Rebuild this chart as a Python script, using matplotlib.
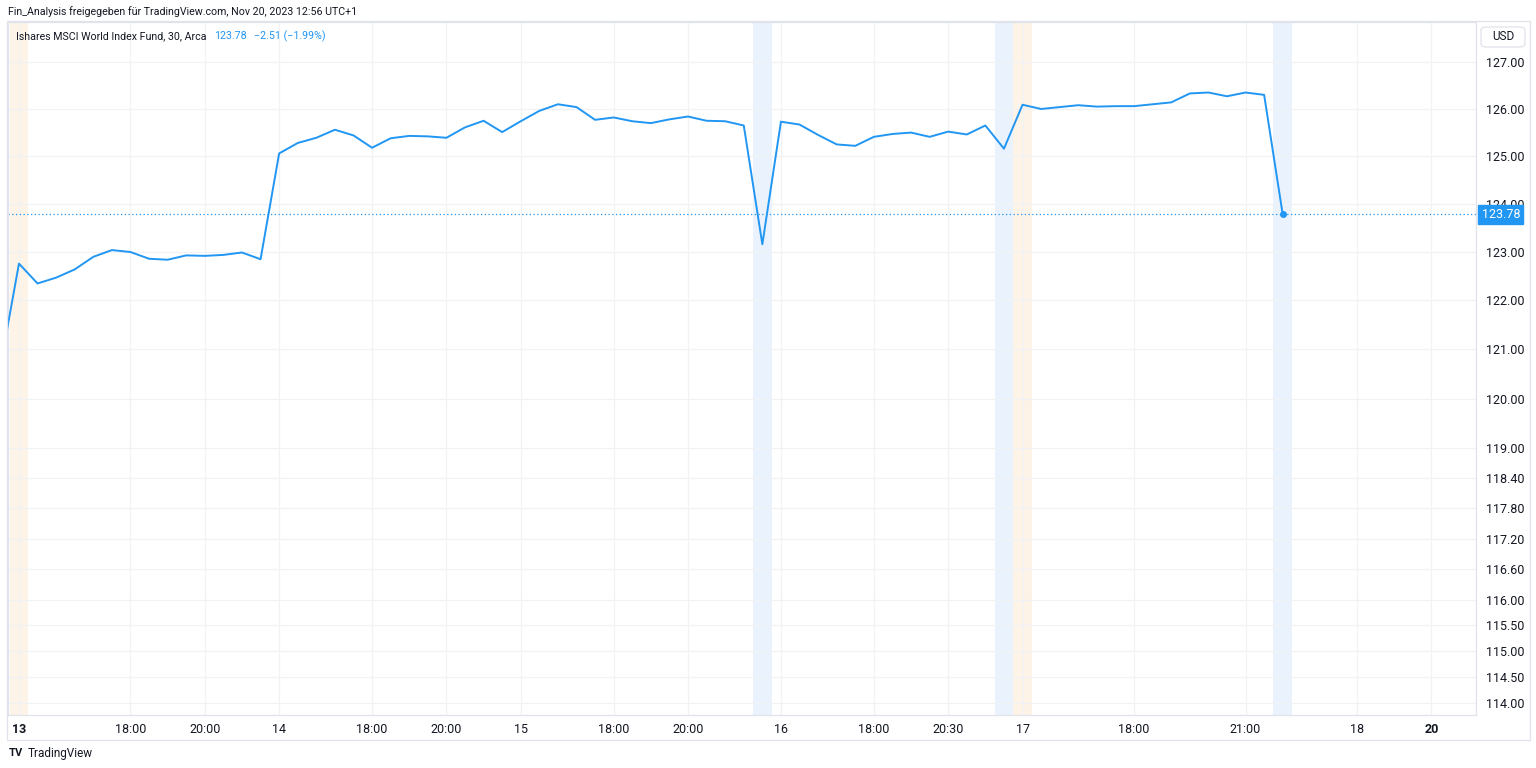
import numpy as np
import matplotlib
matplotlib.use("Agg")
import matplotlib.pyplot as plt
from matplotlib.ticker import FixedLocator, NullLocator, FixedFormatter
from matplotlib.patches import Rectangle, FancyBboxPatch

plt.rcParams['font.family'] = ['Roboto', 'DejaVu Sans']

# ---------------- data (30-min bars, bar index -1 .. 68) ----------------
close_values = [
    120.65,  # previous bar (partly off-screen)
    122.76, 122.35, 122.47, 122.64, 122.90, 123.04, 123.00, 122.86, 122.84, 122.93,
    122.92, 122.94, 122.99, 122.85, 125.06, 125.28, 125.39, 125.56, 125.44, 125.18,
    125.38, 125.43, 125.42, 125.39, 125.61, 125.75, 125.51, 125.74, 125.96, 126.10,
    126.04, 125.77, 125.82, 125.74, 125.70, 125.78, 125.84, 125.75, 125.74, 125.65,
    123.16, 125.73, 125.67, 125.45, 125.25, 125.22, 125.41, 125.47, 125.50, 125.41,
    125.52, 125.46, 125.65, 125.16, 126.09, 126.00, 126.04, 126.08, 126.05, 126.06,
    126.06, 126.10, 126.14, 126.33, 126.35, 126.27, 126.35, 126.30, 123.78,
]
first_bar = -1
pre_market_bars = [0, 54]
post_market_bars = [40, 53, 68]

time_tick_bars = [0, 6, 10, 14, 19, 23, 27, 32, 36, 41, 46, 50, 54, 60, 66, 72, 76]
time_tick_labels = ["13", "18:00", "20:00", "14", "18:00", "20:00", "15", "18:00",
                    "20:00", "16", "18:00", "20:30", "17", "18:00", "21:00", "18", "20"]
bold_time_labels = ["13", "20"]

price_ticks = [127, 126, 125, 124, 123, 122, 121, 120, 119, 118.4, 117.8, 117.2,
               116.6, 116, 115.5, 115, 114.5, 114]
last_price = 123.78
change_text = "\u22122.51 (\u22121.99%)"
header_text = "Fin_Analysis freigegeben für TradingView.com, Nov 20, 2023 12:56 UTC+1"
symbol_text = "Ishares MSCI World Index Fund, 30, Arca"

# ---------------- figure ----------------
W, H = 1536, 768
fig = plt.figure(figsize=(W / 100, H / 100), dpi=100)
fig.patch.set_facecolor("white")

def px(x0, y0, x1, y1):
    return [x0 / W, 1 - y1 / H, (x1 - x0) / W, (y1 - y0) / H]

ax = fig.add_axes(px(8, 22, 1476, 715))
BLUE = "#2196F3"
GRID = "#F0F2F6"
TXT = "#131722"
BORDER = "#E0E3EB"

x = np.arange(len(close_values)) + first_bar
ax.set_yscale("log")
ax.set_xlim(-0.59, 78.4)
ax.set_ylim(113.77, 127.86)

for b in pre_market_bars:
    ax.axvspan(b - 0.5, b + 0.5, color="#FDF3E6", lw=0, zorder=0.5)
for b in post_market_bars:
    ax.axvspan(b - 0.5, b + 0.5, color="#EAF3FD", lw=0, zorder=0.5)

ax.plot(x, close_values, color=BLUE, lw=1.4, zorder=3, solid_joinstyle="round")
ax.plot([x[-1]], [close_values[-1]], "o", color=BLUE, ms=4, zorder=4)
ax.axhline(last_price, color=BLUE, lw=0.9, ls=(0, (1, 2)), zorder=2)

# y axis on right, log scale with fixed ticks
ax.yaxis.tick_right()
ax.yaxis.set_major_locator(FixedLocator(price_ticks))
ax.yaxis.set_minor_locator(NullLocator())
ax.yaxis.set_major_formatter(FixedFormatter([f"{v:.2f}" for v in price_ticks]))
ax.tick_params(axis="y", length=0, pad=7, labelsize=9, labelcolor=TXT)
for lab in ax.get_yticklabels():
    lab.set_horizontalalignment("left")

ax.set_xticks(time_tick_bars)
ax.set_xticklabels(time_tick_labels)
ax.xaxis.set_minor_locator(NullLocator())
ax.tick_params(axis="x", length=0, pad=6, labelsize=9, labelcolor=TXT)
for lab in ax.get_xticklabels():
    if lab.get_text() in bold_time_labels:
        lab.set_fontweight("bold")

ax.grid(True, color=GRID, lw=0.9, zorder=0)
ax.set_axisbelow(True)
for s in ax.spines.values():
    s.set_color(BORDER)
    s.set_linewidth(0.9)

# current price tag
ax.annotate(f"{last_price:.2f}", xy=(1, last_price), xycoords=("axes fraction", "data"),
            xytext=(4, 0), textcoords="offset points", va="center", ha="left",
            fontsize=9, color="white", zorder=10, annotation_clip=False,
            bbox=dict(boxstyle="square,pad=0.25", fc=BLUE, ec=BLUE))

# outer frame
fig.add_artist(Rectangle((7 / W, 1 - 740 / H), (1530 - 7) / W, (740 - 21) / H,
                         transform=fig.transFigure, fill=False, ec=BORDER, lw=0.9))

# USD box
fig.add_artist(FancyBboxPatch((1481 / W, 1 - 47 / H), 44 / W, 20 / H,
                              boxstyle="round,pad=0,rounding_size=0.004",
                              transform=fig.transFigure, fc="white", ec=BORDER, lw=0.9))
fig.text(1503 / W, 1 - 37 / H, "USD", ha="center", va="center", fontsize=8.5, color=TXT)

fig.canvas.draw()
renderer = fig.canvas.get_renderer()

def fitted_text(x0, yc, s, target_w, color, size=9.0):
    t = fig.text(x0 / W, 1 - yc / H, s, ha="left", va="center", fontsize=size, color=color)
    w = t.get_window_extent(renderer).width
    t.set_fontsize(size * target_w / w)
    return t

# header texts
fitted_text(8, 12, header_text, 352, TXT)
t1 = fitted_text(16, 36, symbol_text, 191, TXT)
fs = t1.get_fontsize()
e1 = t1.get_window_extent(renderer)
t2 = fig.text((e1.x1 + 8) / W, 1 - 36 / H, f"{last_price:.2f}", ha="left", va="center",
              fontsize=fs, color=BLUE)
e2 = t2.get_window_extent(renderer)
fig.text((e2.x1 + 7) / W, 1 - 36 / H, change_text, ha="left", va="center",
         fontsize=fs, color=BLUE)

# footer logo
fig.text(9 / W, 1 - 753 / H, "TV", ha="left", va="center", fontsize=8, fontweight="bold",
         color=TXT)
fig.text(28 / W, 1 - 753 / H, "TradingView", ha="left", va="center", fontsize=8.5, color=TXT)

fig.savefig("out.png", dpi=100, facecolor="white")
